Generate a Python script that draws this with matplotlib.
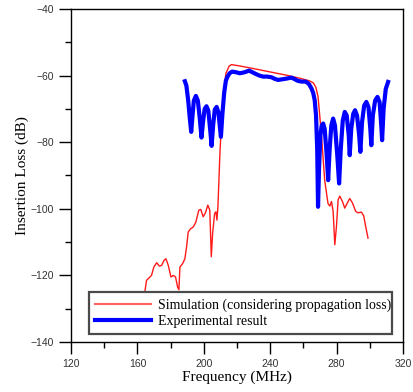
import matplotlib
matplotlib.use("Agg")
import matplotlib.pyplot as plt
from matplotlib.ticker import MultipleLocator

# Simulation (considering propagation loss)
sim_f = [161.5, 163.0, 164.5, 165.5, 166.9, 168.5, 169.9, 171.6, 173.2, 174.6, 176.0, 177.2,
         178.6, 180.2, 181.6, 183.0, 184.2, 185.0, 185.6, 187.2, 188.6, 189.6, 190.6, 192.0,
         193.6, 195.2, 197.0, 198.2, 199.6, 201.0, 202.4, 203.6, 204.5, 205.3, 206.5, 207.3,
         207.9, 208.5, 209.7, 210.5, 211.7, 213.3, 215.3, 216.7, 221.7, 230.0, 240.0, 250.0,
         258.0, 263.8, 266.0, 267.5, 268.8, 270.8, 272.8, 274.8, 275.9, 276.9, 277.9, 278.9,
         279.9, 280.9, 281.9, 283.5, 284.9, 286.5, 287.9, 289.5, 291.5, 292.9, 294.9, 296.3,
         297.9, 298.9]
sim_db = [-132.0, -128.0, -124.9, -121.5, -120.8, -120.0, -117.5, -116.2, -117.2, -117.0, -115.5, -115.0,
          -117.0, -120.5, -120.0, -120.5, -123.5, -124.3, -117.5, -116.5, -115.0, -111.5, -107.0, -106.0,
          -105.5, -104.0, -100.4, -100.2, -102.4, -101.2, -98.9, -100.4, -114.4, -107.4, -101.4, -100.9,
          -103.4, -99.4, -83.4, -75.4, -66.4, -59.3, -57.1, -56.7, -57.1, -57.9, -58.9, -59.9,
          -60.8, -61.6, -62.2, -63.5, -66.3, -77.4, -91.4, -98.4, -99.2, -97.8, -100.8, -110.8,
          -105.3, -97.3, -96.2, -97.8, -99.8, -98.2, -96.9, -98.2, -100.8, -101.2, -101.0, -102.1,
          -106.3, -108.8]

# Experimental result
exp_f = [188.6, 189.5, 190.6, 191.6, 192.4, 193.2, 194.0, 195.2, 196.4, 197.6, 198.6, 199.5,
         200.5, 201.6, 202.7, 203.8, 204.7, 205.6, 206.6, 207.7, 208.8, 209.7, 210.3, 211.2,
         212.3, 213.3, 214.3, 215.5, 217.1, 219.5, 221.7, 224.5, 227.3, 229.3, 231.3, 233.5,
         235.7, 238.2, 240.8, 242.8, 244.8, 247.3, 249.8, 252.8, 254.8, 256.8, 259.0, 261.4,
         263.3, 264.8, 265.9, 266.8, 267.6, 268.3, 268.8, 269.4, 270.2, 271.0, 271.9, 272.8,
         273.9, 274.9, 275.8, 276.8, 277.9, 279.0, 280.4, 281.5, 282.5, 283.7, 284.9, 286.1,
         287.3, 287.9, 288.8, 290.0, 291.1, 292.3, 293.6, 294.3, 295.3, 296.6, 297.9, 299.2,
         300.3, 300.9, 301.8, 303.2, 304.6, 305.9, 306.9, 307.4, 308.3, 309.6, 311.0]
exp_db = [-61.7, -63.0, -67.5, -73.0, -76.9, -72.0, -67.5, -66.1, -67.5, -73.0, -78.6, -74.0,
          -70.0, -69.2, -70.5, -76.0, -81.1, -75.0, -70.2, -69.4, -71.0, -75.5, -78.4, -71.5,
          -65.0, -61.5, -60.3, -59.3, -58.8, -59.0, -59.3, -59.0, -58.5, -59.0, -59.5, -60.0,
          -60.3, -60.3, -60.5, -61.0, -61.3, -61.1, -60.9, -60.6, -61.1, -61.6, -61.8, -61.8,
          -62.5, -63.8, -65.2, -67.4, -72.0, -82.0, -99.4, -88.0, -78.0, -75.0, -74.4, -76.0,
          -83.0, -91.4, -82.0, -75.0, -72.9, -75.0, -84.0, -92.4, -82.0, -73.5, -70.9, -72.0,
          -78.0, -83.9, -76.0, -71.5, -70.4, -72.0, -78.0, -82.9, -74.0, -69.0, -67.9, -69.5,
          -76.0, -80.9, -72.0, -67.5, -66.4, -68.0, -75.0, -79.4, -70.0, -64.0, -61.9]

x_ticks = [120, 160, 200, 240, 280, 320]
y_ticks = [-140, -120, -100, -80, -60, -40]

plt.rcParams['font.family'] = ['Liberation Serif', 'DejaVu Serif']

fig = plt.figure(figsize=(4.14, 3.92), dpi=100)
ax = fig.add_axes([0.1715, 0.1276, 0.802, 0.8494])

ax.plot(sim_f, sim_db, color='#ff1a1a', lw=1.0,
        label='Simulation (considering propagation loss)')
ax.plot(exp_f, exp_db, color='#0000ff', lw=3.0, solid_joinstyle='round',
        label='Experimental result')

ax.set_xlim(120, 320)
ax.set_ylim(-140, -40)
ax.set_xticks(x_ticks)
ax.set_yticks(y_ticks)
ax.xaxis.set_minor_locator(MultipleLocator(20))
ax.yaxis.set_minor_locator(MultipleLocator(10))
ax.tick_params(which='major', length=8.5, width=1.0, direction='out', color='black')
ax.tick_params(which='minor', length=4.3, width=1.0, direction='out', color='black')
for lab in ax.get_xticklabels() + ax.get_yticklabels():
    lab.set_fontfamily('Liberation Sans')
    lab.set_fontsize(7.5)
    lab.set_color('#333333')
ax.tick_params(axis='x', pad=4)
ax.tick_params(axis='y', pad=4)
for s in ax.spines.values():
    s.set_linewidth(1.0)

ax.set_xlabel('Frequency (MHz)', fontsize=11, labelpad=1)
ax.set_ylabel('Insertion Loss (dB)', fontsize=11, labelpad=0.5)

leg = ax.legend(loc='lower left', bbox_to_anchor=(0.054, 0.024, 0.913, 0.126),
                mode='expand', borderaxespad=0, fancybox=False, shadow=False,
                fontsize=10, handlelength=4.0, handletextpad=0.5,
                labelspacing=0.2, borderpad=0.45, framealpha=1)
leg.get_frame().set_edgecolor('#4a4a4a')
leg.get_frame().set_linewidth(1.6)
leg.get_lines()[0].set_color('#ff6060')
leg.get_lines()[0].set_linewidth(1.5)

fig.savefig('out.png', dpi=100)
